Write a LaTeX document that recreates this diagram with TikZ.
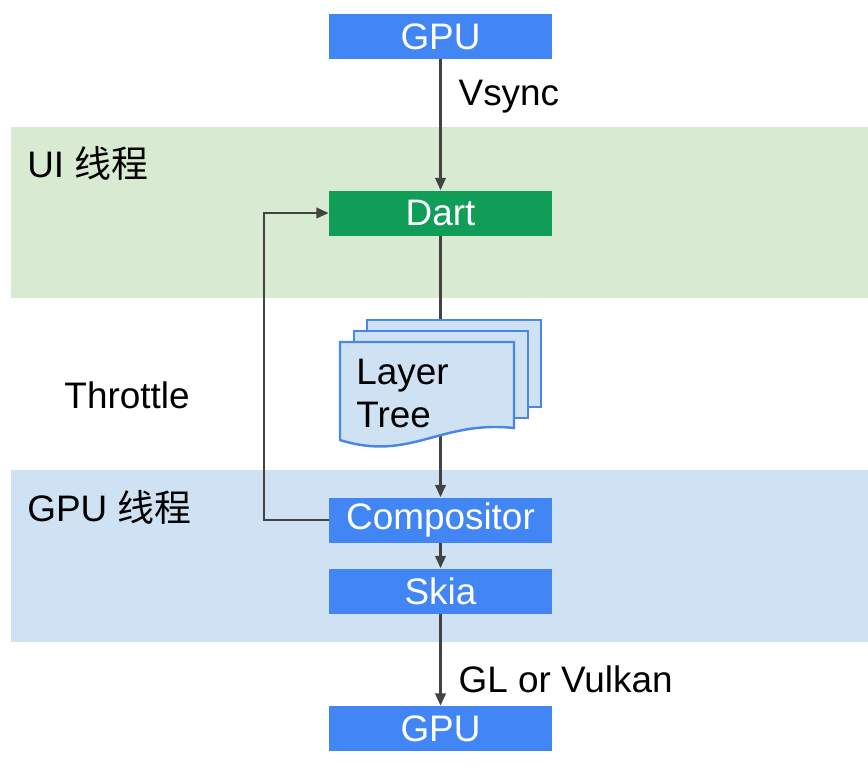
\documentclass[tikz,border=0pt]{standalone}
\usepackage{fontspec}
\setmainfont{Liberation Sans}
\newfontfamily\cjk{Noto Sans CJK SC}
\usetikzlibrary{arrows.meta}

\definecolor{gblue}{HTML}{4285F4}
\definecolor{ggreen}{HTML}{0F9D58}
\definecolor{bandgreen}{HTML}{D9EAD3}
\definecolor{bandblue}{HTML}{CFE2F3}
\definecolor{sheetline}{HTML}{4A86E8}
\definecolor{wire}{HTML}{434343}

\begin{document}
\begin{tikzpicture}[x=0.02cm, y=-0.02cm, >={Triangle[length=7pt,width=6pt]},
    box/.style={fill=gblue, text=white, minimum width=4.46cm, minimum height=0.9cm,
      inner sep=0pt, font=\fontsize{21}{24}\selectfont},
    lbl/.style={font=\fontsize{21}{24}\selectfont, inner sep=0pt},
    wire/.style={draw=wire, line width=1.3pt},
    sheet/.style={fill=bandblue, draw=sheetline, line width=1.4pt}]

    \useasboundingbox (0,0) rectangle (868,775);

    % 线程背景
    \fill[bandgreen] (11,127) rectangle (868,298);
    \fill[bandblue] (11,470) rectangle (868,642);
    \node[lbl, anchor=west] (uithread) at (27,163) {UI {\cjk 线程}};
    \node[lbl, anchor=west] (gputhread) at (27,507) {GPU {\cjk 线程}};

    % 方框
    \node[box] (gputop) at (440.5,36.5) {GPU};
    \node[box, fill=ggreen] (dart) at (440.5,213) {Dart};
    \node[box] (comp) at (440.5,520) {Compositor};
    \node[box] (skia) at (440.5,591) {Skia};
    \node[box] (gpubot) at (440.5,728.5) {GPU};

    % 连线
    \draw[wire, ->] (gputop) -- (dart) node[lbl, midway, anchor=west, xshift=0.34cm, yshift=0.56cm] (vsync) {Vsync};
    \draw[wire, ->] (dart) -- (comp);
    \draw[wire, ->] (comp) -- (skia);
    \draw[wire, ->] (skia) -- (gpubot) node[lbl, midway, anchor=west, xshift=0.34cm, yshift=-0.4cm] (gl) {GL or Vulkan};
    \coordinate (bend) at (264,520);
    \draw[wire, ->] (comp.west) -- (bend) |- (dart.west);
    \node[lbl] (throttle) at (127,395) {Throttle};

    % Layer Tree 叠层
    \draw[sheet] (367,320) rectangle (541,407);
    \draw[sheet] (354,331) rectangle (528,418);
    \draw[sheet] (340,342) -- (514,342) -- (514,428)
        .. controls (440,420) and (410,462) .. (340,440) -- cycle;
    \node[lbl, anchor=west, align=left, font=\fontsize{21}{24.5}\selectfont] (tree) at (356,393) {Layer\\Tree};
\end{tikzpicture}
\end{document}
